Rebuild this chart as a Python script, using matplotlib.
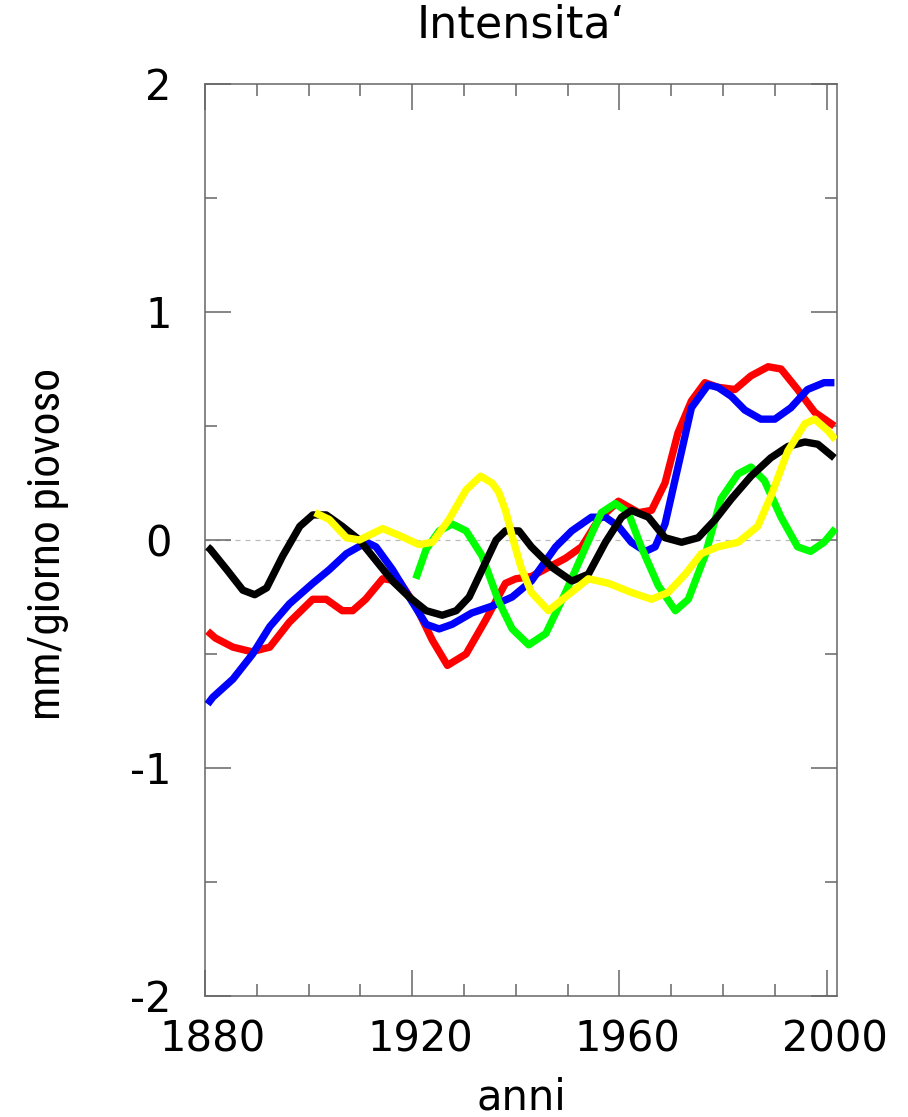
import matplotlib
matplotlib.use("Agg")
import matplotlib.pyplot as plt
from matplotlib import font_manager
from matplotlib.transforms import ScaledTranslation
from matplotlib.ticker import MultipleLocator, FixedLocator

# ---------------- data ----------------
red_years = [1880.5, 1882, 1885.4, 1889, 1892.5, 1896.3, 1900.8, 1903.4, 1906.5, 1908.5,
             1911, 1914.3, 1917.5, 1920.7, 1923.9, 1926.8, 1930.4, 1934.2, 1938, 1940,
             1943, 1949.6, 1952.7, 1956, 1959.8, 1963.7, 1966.2, 1968.8, 1971.3, 1973.9,
             1976.5, 1979, 1982.3, 1985.4, 1988.7, 1991.2, 1994.4, 1997.7, 2001.5]
red_vals = [-0.40, -0.43, -0.47, -0.49, -0.47, -0.36, -0.26, -0.26, -0.31, -0.31,
            -0.26, -0.17, -0.18, -0.29, -0.44, -0.55, -0.50, -0.35, -0.19, -0.17,
            -0.16, -0.08, -0.03, 0.09, 0.17, 0.12, 0.13, 0.25, 0.47, 0.61,
            0.69, 0.67, 0.66, 0.72, 0.76, 0.75, 0.66, 0.56, 0.50]

blue_years = [1880.5, 1881.5, 1885.4, 1889.2, 1892.5, 1896.3, 1900.8, 1904, 1907.3, 1911.2,
              1913, 1916.2, 1919.4, 1922.7, 1925.2, 1927.7, 1931.5, 1935.4, 1939.3, 1943,
              1947.7, 1950.8, 1954.6, 1957.3, 1959.8, 1962.3, 1965, 1966.9, 1968.8, 1971.3,
              1973.9, 1977.1, 1979, 1981.6, 1984.2, 1987.3, 1990, 1993.1, 1996.3, 1999.5, 2001.5]
blue_vals = [-0.72, -0.69, -0.61, -0.50, -0.38, -0.28, -0.19, -0.13, -0.06, -0.01,
             -0.03, -0.13, -0.25, -0.37, -0.39, -0.37, -0.32, -0.29, -0.25, -0.18,
             -0.03, 0.04, 0.10, 0.10, 0.06, -0.01, -0.05, -0.03, 0.07, 0.32,
             0.58, 0.68, 0.67, 0.63, 0.57, 0.53, 0.53, 0.58, 0.66, 0.69, 0.69]

green_years = [1920.7, 1922.7, 1925.2, 1927.7, 1930.4, 1933.5, 1936.7, 1939.3, 1942.5, 1945.8,
               1949.6, 1953.5, 1956.5, 1959.2, 1961.7, 1964.2, 1967.5, 1970.8, 1973.3, 1976.5,
               1979.6, 1982.9, 1985.4, 1988, 1991.2, 1994.4, 1996.9, 1999.5, 2001.7]
green_vals = [-0.17, -0.04, 0.04, 0.07, 0.04, -0.07, -0.27, -0.39, -0.46, -0.41,
              -0.23, -0.03, 0.12, 0.16, 0.12, -0.03, -0.20, -0.31, -0.26, -0.07,
              0.18, 0.29, 0.32, 0.26, 0.10, -0.03, -0.05, -0.01, 0.05]

black_years = [1880.5, 1881, 1884.2, 1887.3, 1889.6, 1891.9, 1895, 1898.3, 1900.8, 1903.4,
               1906.5, 1909.8, 1913, 1916.2, 1919.4, 1922.7, 1925.8, 1928.5, 1931, 1933.5,
               1936.2, 1938, 1940.6, 1943, 1947, 1950.8, 1954, 1957.3, 1960.4, 1962.3,
               1965.6, 1968.8, 1972, 1975.2, 1978.5, 1981.6, 1985.4, 1989.2, 1992.5, 1995.8,
               1998.3, 2001.5]
black_vals = [-0.03, -0.04, -0.13, -0.22, -0.24, -0.21, -0.07, 0.06, 0.11, 0.11,
              0.06, 0.0, -0.09, -0.18, -0.25, -0.31, -0.33, -0.31, -0.25, -0.13,
              0.0, 0.04, 0.04, -0.03, -0.12, -0.18, -0.15, -0.01, 0.10, 0.13,
              0.10, 0.01, -0.01, 0.01, 0.09, 0.18, 0.28, 0.36, 0.41, 0.43,
              0.42, 0.36]

yellow_years = [1901.2, 1904, 1907.3, 1909.8, 1914.3, 1917.5, 1921.3, 1923.9, 1927.1, 1930.4,
                1933.2, 1935.4, 1936.7, 1938, 1939.5, 1941, 1943, 1946.3, 1949.6, 1954,
                1957.9, 1962.3, 1966.2, 1969.4, 1972.7, 1975.8, 1979, 1982.9, 1986.7, 1989.2,
                1992.5, 1995.8, 1997.7, 2000.2, 2001.7]
yellow_vals = [0.12, 0.09, 0.01, 0.0, 0.05, 0.02, -0.02, -0.01, 0.09, 0.22,
               0.28, 0.25, 0.21, 0.13, 0.0, -0.12, -0.23, -0.31, -0.25, -0.17,
               -0.19, -0.23, -0.26, -0.23, -0.15, -0.06, -0.03, -0.01, 0.06, 0.19,
               0.39, 0.51, 0.53, 0.48, 0.44]

x_major = [1880, 1920, 1960, 2000]
x_labels = ["1880", "1920", "1960", "2000"]
y_major = [-2, -1, 0, 1, 2]
y_labels = ["-2", "-1", "0", "1", "2"]

title = "Intensita\u2018"
xlabel = "anni"
ylabel = "mm/giorno piovoso"

# ---------------- figure ----------------
W, H = 908, 1117
fig = plt.figure(figsize=(W / 100, H / 100), dpi=100)
ax = fig.add_axes([205 / W, 1 - 996 / H, 632 / W, 912 / H])

FONT = "DejaVu Sans"
FS = 30

# pick a condensed face for the vertical label if one is installed
fonts = font_manager.fontManager.ttflist
yl_props = None
for cand in ["Liberation Sans Narrow", "Noto Sans Condensed", "DejaVu Sans Condensed",
             "Roboto Condensed", "Open Sans Condensed"]:
    if any(f.name == cand for f in fonts):
        yl_props = dict(family=cand)
        break
if yl_props is None:
    cond = [f for f in fonts if f.name in ("Noto Sans", "Open Sans", "Roboto", "DejaVu Sans")
            and str(f.stretch) in ("condensed", "semi-condensed", "75", "87.5", "87")
            and f.style == "normal" and f.weight in (400, "normal", "regular")]
    if cond:
        yl_props = dict(fname=cond[0].fname)
    else:
        yl_props = dict(family="Liberation Sans")

ax.axhline(0, color="#bbbbbb", lw=0.9, dashes=(4, 4), zorder=1)

LW = 5.3
series = [
    (red_years, red_vals, "#ff0000"),
    (blue_years, blue_vals, "#0000ff"),
    (green_years, green_vals, "#00ff00"),
    (black_years, black_vals, "#000000"),
    (yellow_years, yellow_vals, "#ffff00"),
]
for xs, ys, c in series:
    ax.plot(xs, ys, color=c, lw=LW, solid_joinstyle="round", solid_capstyle="butt", zorder=3)

ax.set_xlim(1880, 2002)
ax.set_ylim(-2, 2)

ax.xaxis.set_major_locator(FixedLocator(x_major))
ax.set_xticklabels(x_labels)
ax.xaxis.set_minor_locator(MultipleLocator(10))
ax.yaxis.set_major_locator(FixedLocator(y_major))
ax.set_yticklabels(y_labels)
ax.yaxis.set_minor_locator(MultipleLocator(0.5))

tick_col = "#666666"
ax.tick_params(which="both", direction="in", top=True, right=True, color=tick_col, width=1.1)
ax.tick_params(which="major", length=19)
ax.tick_params(which="minor", length=8.5)
ax.tick_params(axis="x", which="major", pad=16.5, labelsize=FS)
ax.tick_params(axis="y", which="major", pad=24, labelsize=FS)
for lab in ax.get_xticklabels() + ax.get_yticklabels():
    lab.set_family(FONT)
off = ScaledTranslation(8 / 100, 0, fig.dpi_scale_trans)
for lab in ax.get_xticklabels():
    lab.set_transform(lab.get_transform() + off)

for s in ax.spines.values():
    s.set_color(tick_col)
    s.set_linewidth(1.1)

t = fig.text(521 / W, 1 - 37 / H, title, ha="center", va="baseline", fontsize=32, family=FONT)
ax.set_xlabel(xlabel, fontsize=FS, family=FONT)
ax.xaxis.set_label_coords(0.5, (996 - 1110) / 912)
ax.xaxis.label.set_va("baseline")

if "fname" in yl_props:
    ax.set_ylabel(ylabel, fontproperties=font_manager.FontProperties(fname=yl_props["fname"], size=34))
else:
    ax.set_ylabel(ylabel, fontsize=34, family=yl_props["family"])
ax.yaxis.set_label_coords((48 - 205) / 632, (996 - 544) / 912)
ax.yaxis.label.set_va("center")

# scale the vertical label so that it spans ~352 px, as in the reference
fig.canvas.draw()
r = fig.canvas.get_renderer()
bb = ax.yaxis.label.get_window_extent(r)
ax.yaxis.label.set_fontsize(34 * 352 / bb.height)

fig.savefig("out.png", dpi=100)
